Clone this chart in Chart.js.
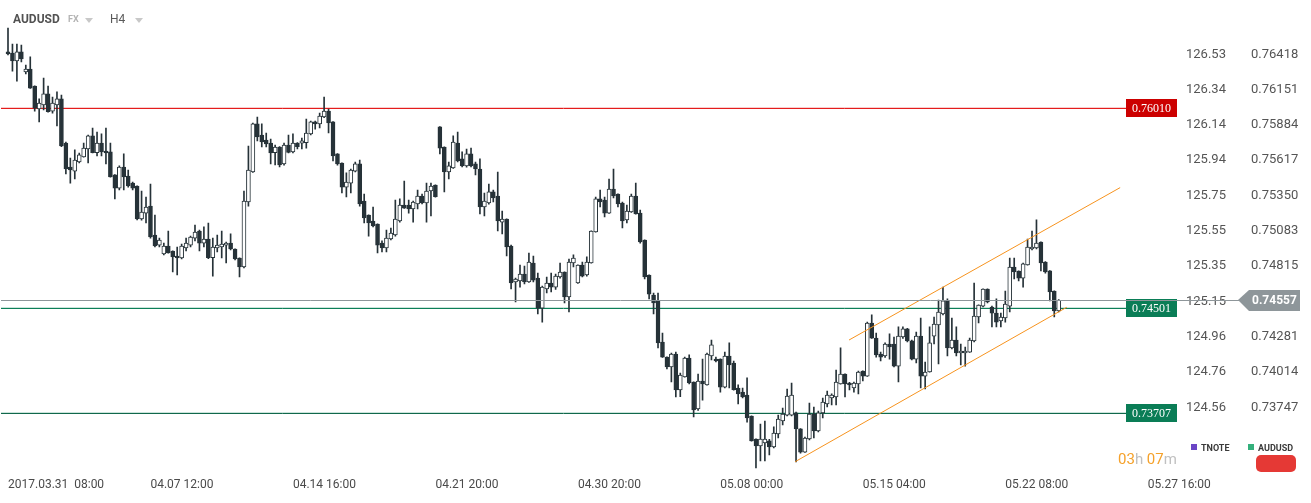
<!DOCTYPE html>
<html><head><meta charset="utf-8">
<script src="https://cdn.jsdelivr.net/npm/chart.js@4.4.1/dist/chart.umd.min.js"></script>
<style>
html,body{margin:0;padding:0;background:#fff;width:1311px;height:503px;overflow:hidden;font-family:Roboto,sans-serif;}
#wrap{position:relative;width:1311px;height:503px;}
canvas{position:absolute;left:0;top:0;}
.t{position:absolute;white-space:nowrap;line-height:1;}
.tri{position:absolute;width:0;height:0;border-left:4px solid transparent;border-right:4px solid transparent;border-top:5px solid #c8c8c8;}
</style></head><body>
<div id="wrap">
<canvas id="c" width="1311" height="503"></canvas>
<div class="t" style="left:13px;top:12px;font:bold 12px Roboto;color:#525252">AUDUSD</div>
<div class="t" style="left:68px;top:14px;font:bold 9px Roboto;color:#b4b4b4">FX</div>
<div class="tri" style="left:85px;top:18px"></div>
<div class="t" style="left:110px;top:12px;font:12px Roboto;color:#5a5a5a">H4</div>
<div class="tri" style="left:135px;top:18px"></div>
<div style="position:absolute;left:1191px;top:444px;width:6px;height:6px;background:#6b45c6"></div>
<div class="t" style="left:1201px;top:443px;font:bold 9px Roboto;color:#3a3a3a">TNOTE</div>
<div style="position:absolute;left:1248px;top:444px;width:6px;height:6px;background:#34b07c"></div>
<div class="t" style="left:1258px;top:443px;font:bold 9px Roboto;color:#3a3a3a">AUDUSD</div>
<div class="t" style="left:1118px;top:450px;font:15px Roboto;color:#c0c0c0"><span style="color:#f5a12a">03</span>h <span style="color:#f5a12a">07</span>m</div>
<div style="position:absolute;left:1256px;top:455px;width:40px;height:17px;border-radius:5px;background:#e53935"></div>
</div>
<script>
// ---- DATA ----
const open = [0.76437,0.76429,0.76368,0.76437,0.76285,0.76308,0.76179,0.76005,0.76035,0.76119,
0.75989,0.76035,0.76081,0.75747,0.75566,0.75535,0.75604,0.75642,0.75702,0.75801,
0.75675,0.75747,0.75687,0.75680,0.75506,0.75406,0.75566,0.75498,0.75444,0.75422,
0.75172,0.75217,0.75270,0.75051,0.74975,0.74908,0.74968,0.74930,0.74892,0.74877,
0.74953,0.74975,0.75028,0.75081,0.74990,0.75021,0.74880,0.74953,0.74960,0.74975,
0.74990,0.74945,0.74877,0.74809,0.75301,0.75528,0.75892,0.75808,0.75770,0.75747,
0.75675,0.75717,0.75589,0.75732,0.75680,0.75747,0.75747,0.75750,0.75816,0.75907,
0.75892,0.75944,0.75989,0.75907,0.75665,0.75596,0.75414,0.75444,0.75535,0.75589,
0.75308,0.75202,0.75157,0.75134,0.74990,0.74953,0.75021,0.75051,0.75157,0.75278,
0.75278,0.75248,0.75286,0.75346,0.75293,0.75384,0.75429,0.75869,0.75717,0.75528,
0.75558,0.75747,0.75627,0.75574,0.75665,0.75589,0.75551,0.75263,0.75293,0.75377,
0.75346,0.75149,0.75172,0.74968,0.74695,0.74703,0.74756,0.74695,0.74839,0.74725,
0.74498,0.74642,0.74688,0.74657,0.74733,0.74771,0.74582,0.74839,0.74688,0.74824,
0.74748,0.74839,0.75074,0.75324,0.75316,0.75217,0.75399,0.75361,0.75293,0.75165,
0.75225,0.75346,0.75217,0.75013,0.74748,0.74597,0.74552,0.74241,0.74127,0.74052,
0.74150,0.73878,0.73976,0.74120,0.73938,0.73734,0.73946,0.73916,0.74135,0.74112,
0.74112,0.73900,0.74135,0.74082,0.73893,0.73862,0.73840,0.73681,0.73507,0.73454,
0.73477,0.73492,0.73446,0.73545,0.73643,0.73688,0.73688,0.73704,0.73583,0.73408,
0.73507,0.73696,0.73567,0.73704,0.73772,0.73817,0.73825,0.73923,0.73999,0.73931,
0.73893,0.73923,0.74021,0.73983,0.74385,0.74271,0.74150,0.74135,0.74226,0.74226,
0.74059,0.74279,0.74340,0.74249,0.74112,0.74286,0.73983,0.74014,0.74286,0.74370,
0.74453,0.74552,0.74196,0.74256,0.74158,0.74158,0.74165,0.74249,0.74430,0.74513,
0.74642,0.74506,0.74460,0.74400,0.74423,0.74513,0.74809,0.74778,0.74725,0.74824,
0.74945,0.74953,0.74998,0.74847,0.74779,0.74627,0.74476];
const high = [0.76618,0.76497,0.76497,0.76489,0.76338,0.76399,0.76181,0.76081,0.76239,0.76179,
0.76096,0.76134,0.76111,0.75755,0.75634,0.75695,0.75672,0.75747,0.75808,0.75861,
0.75831,0.75816,0.75861,0.75747,0.75508,0.75574,0.75665,0.75543,0.75452,0.75424,
0.75384,0.75339,0.75437,0.75202,0.75028,0.74990,0.75081,0.74932,0.74960,0.74983,
0.75028,0.75043,0.75127,0.75089,0.75112,0.75142,0.75028,0.75051,0.75081,0.74998,
0.75059,0.74947,0.74879,0.75384,0.75725,0.75899,0.75944,0.75892,0.75823,0.75778,
0.75732,0.75720,0.75747,0.75808,0.75816,0.75750,0.75785,0.75929,0.75914,0.75914,
0.75974,0.76096,0.76005,0.75909,0.75667,0.75598,0.75521,0.75551,0.75604,0.75619,
0.75361,0.75204,0.75263,0.75136,0.75006,0.75089,0.75104,0.75316,0.75324,0.75460,
0.75316,0.75308,0.75392,0.75361,0.75444,0.75444,0.75431,0.75871,0.75719,0.75604,
0.75801,0.75831,0.75680,0.75702,0.75709,0.75604,0.75627,0.75369,0.75437,0.75392,
0.75528,0.75233,0.75174,0.74975,0.74725,0.74824,0.74816,0.74915,0.74892,0.74763,
0.74665,0.74733,0.74763,0.74756,0.74839,0.74773,0.74869,0.74900,0.74826,0.74847,
0.74885,0.75083,0.75339,0.75392,0.75339,0.75475,0.75551,0.75363,0.75301,0.75278,
0.75361,0.75444,0.75240,0.75015,0.74750,0.74612,0.74612,0.74309,0.74129,0.74158,
0.74165,0.74006,0.74127,0.74143,0.73940,0.73999,0.74112,0.74158,0.74256,0.74127,
0.74114,0.74165,0.74234,0.74097,0.73916,0.73893,0.73969,0.73683,0.73509,0.73620,
0.73643,0.73505,0.73598,0.73688,0.73741,0.73885,0.73931,0.73711,0.73585,0.73522,
0.73779,0.73749,0.73719,0.73817,0.73870,0.73848,0.74029,0.74196,0.74001,0.73935,
0.73938,0.74021,0.74023,0.74392,0.74446,0.74309,0.74165,0.74234,0.74302,0.74279,
0.74355,0.74355,0.74345,0.74256,0.74317,0.74423,0.74090,0.74355,0.74430,0.74559,
0.74657,0.74567,0.74423,0.74355,0.74226,0.74203,0.74271,0.74688,0.74523,0.74644,
0.74644,0.74513,0.74567,0.74460,0.74627,0.74877,0.74877,0.74780,0.74839,0.75021,
0.75081,0.75165,0.75000,0.74849,0.74781,0.74629,0.74562];
const low = [0.76414,0.76292,0.76216,0.76361,0.76270,0.76160,0.75989,0.75907,0.75997,0.75980,
0.75974,0.75877,0.75720,0.75513,0.75444,0.75475,0.75596,0.75640,0.75596,0.75672,
0.75650,0.75650,0.75589,0.75488,0.75324,0.75392,0.75392,0.75414,0.75392,0.75165,
0.75163,0.75142,0.75028,0.74960,0.74960,0.74900,0.74913,0.74771,0.74748,0.74870,
0.74930,0.74960,0.75006,0.74930,0.74960,0.74872,0.74740,0.74923,0.74877,0.74839,
0.74938,0.74862,0.74733,0.74801,0.75270,0.75525,0.75763,0.75717,0.75717,0.75589,
0.75581,0.75566,0.75579,0.75673,0.75673,0.75702,0.75702,0.75709,0.75808,0.75853,
0.75861,0.75940,0.75823,0.75611,0.75580,0.75369,0.75339,0.75369,0.75528,0.75270,
0.75142,0.75043,0.75112,0.74915,0.74923,0.74923,0.75013,0.75043,0.75149,0.75253,
0.75217,0.75149,0.75248,0.75286,0.75149,0.75195,0.75338,0.75665,0.75377,0.75475,
0.75556,0.75604,0.75566,0.75564,0.75566,0.75506,0.75210,0.75195,0.75285,0.75301,
0.75081,0.75059,0.74892,0.74642,0.74544,0.74657,0.74680,0.74692,0.74695,0.74453,
0.74392,0.74612,0.74620,0.74640,0.74725,0.74536,0.74468,0.74809,0.74685,0.74733,
0.74740,0.74837,0.75072,0.75263,0.75187,0.75215,0.75331,0.75263,0.75104,0.75142,
0.75222,0.75208,0.74990,0.74718,0.74567,0.74453,0.74196,0.74125,0.74037,0.73938,
0.73825,0.73827,0.73974,0.73923,0.73673,0.73724,0.73800,0.73914,0.74105,0.74090,
0.73862,0.73893,0.73893,0.73876,0.73772,0.73817,0.73635,0.73490,0.73287,0.73340,
0.73340,0.73386,0.73439,0.73514,0.73613,0.73681,0.73681,0.73333,0.73399,0.73406,
0.73499,0.73514,0.73560,0.73666,0.73749,0.73764,0.73764,0.73921,0.73825,0.73878,
0.73862,0.73848,0.73946,0.73981,0.74269,0.74127,0.74097,0.74125,0.74112,0.74052,
0.73938,0.74268,0.74241,0.74105,0.74082,0.73893,0.73885,0.74012,0.74226,0.74075,
0.74446,0.74135,0.74188,0.74135,0.74067,0.74059,0.74163,0.74241,0.74385,0.74506,
0.74536,0.74355,0.74355,0.74355,0.74392,0.74468,0.74718,0.74703,0.74657,0.74822,
0.74938,0.74945,0.74779,0.74763,0.74552,0.74430,0.74468];
const close = [0.76422,0.76368,0.76437,0.76384,0.76308,0.76163,0.76012,0.76050,0.76119,0.75985,
0.76050,0.76081,0.75725,0.75551,0.75543,0.75619,0.75657,0.75709,0.75801,0.75675,
0.75747,0.75680,0.75672,0.75491,0.75406,0.75566,0.75491,0.75422,0.75406,0.75172,
0.75225,0.75263,0.75036,0.74968,0.75013,0.74968,0.74915,0.74885,0.74877,0.74968,
0.74990,0.75036,0.75074,0.74990,0.75021,0.74880,0.74960,0.74975,0.74983,0.74990,
0.74945,0.74870,0.74809,0.75308,0.75543,0.75892,0.75793,0.75755,0.75740,0.75672,
0.75717,0.75581,0.75732,0.75677,0.75747,0.75720,0.75763,0.75823,0.75907,0.75892,
0.75952,0.75989,0.75899,0.75650,0.75589,0.75414,0.75452,0.75543,0.75589,0.75286,
0.75180,0.75142,0.75119,0.74975,0.74953,0.75028,0.75066,0.75172,0.75278,0.75255,
0.75248,0.75301,0.75346,0.75293,0.75384,0.75422,0.75341,0.75709,0.75528,0.75574,
0.75755,0.75611,0.75574,0.75665,0.75574,0.75551,0.75263,0.75308,0.75377,0.75331,
0.75157,0.75172,0.74960,0.74688,0.74718,0.74756,0.74695,0.74847,0.74710,0.74498,
0.74657,0.74688,0.74657,0.74740,0.74771,0.74582,0.74847,0.74877,0.74824,0.74740,
0.74847,0.75081,0.75324,0.75301,0.75217,0.75399,0.75346,0.75286,0.75157,0.75233,
0.75346,0.75210,0.74998,0.74733,0.74604,0.74536,0.74234,0.74127,0.74052,0.74150,
0.73878,0.73991,0.74120,0.73931,0.73726,0.73946,0.73923,0.74150,0.74219,0.74097,
0.73900,0.74135,0.74067,0.73880,0.73848,0.73825,0.73666,0.73492,0.73454,0.73507,
0.73507,0.73446,0.73552,0.73658,0.73696,0.73832,0.73840,0.73583,0.73408,0.73514,
0.73696,0.73567,0.73704,0.73787,0.73840,0.73840,0.73938,0.73999,0.73923,0.73916,
0.73931,0.74014,0.73983,0.74385,0.74271,0.74143,0.74127,0.74226,0.74203,0.74059,
0.74286,0.74340,0.74249,0.74112,0.74286,0.73983,0.74014,0.74234,0.74377,0.74468,
0.74552,0.74196,0.74256,0.74158,0.74173,0.74173,0.74256,0.74438,0.74521,0.74642,
0.74544,0.74460,0.74392,0.74430,0.74529,0.74809,0.74771,0.74725,0.74832,0.74960,
0.74960,0.74990,0.74839,0.74771,0.74620,0.74476,0.74557];

const xTickIndex = [0, 32, 64, 96, 128, 160, 192, 224, 256];
const xTickLabels = ['2017.03.31  08:00', '04.07 12:00', '04.14 16:00', '04.21 20:00', '04.30 20:00', '05.08 00:00', '05.15 04:00', '05.22 08:00', '05.27 16:00'];
const audTicks = [0.76418, 0.76151, 0.75884, 0.75617, 0.75350, 0.75083, 0.74815, 0.74548, 0.74281, 0.74014, 0.73747];
const tnoteTicks = ['126.53', '126.34', '126.14', '125.94', '125.75', '125.55', '125.35', '125.15', '124.96', '124.76', '124.56'];
const levelValues = [0.76010, 0.74501, 0.73707];
const currentPrice = 0.74557;
const channelUpper = [[188.9, 0.74256], [249.8, 0.75410]];
const channelLower = [[176.8, 0.73335], [237.8, 0.74504]];

// ---- STYLE ----
const DARK = '#263238';
const levelLine = ['#e41c1c', '#0c7f58', '#11684c'];
const levelBox = ['#cc0000', '#0a7d56', '#0a7d56'];
const Y_MIN = 0.732721, Y_MAX = 0.767104;
const X_MIN = -1.571, X_MAX = 262.79;

Chart.defaults.font.family = 'Roboto';

const bodies = open.map((o, i) => ({x: i, y: [o, close[i]]}));
const wicks = low.map((l, i) => ({x: i, y: [l, high[i]]}));
const bodyFill = open.map((o, i) => close[i] >= o ? '#ffffff' : DARK);

const levelPlugin = {
  id: 'levels',
  beforeDatasetsDraw(chart) {
    const {ctx, chartArea: a, scales: {y}} = chart;
    ctx.save();
    levelValues.forEach((v, k) => {
      const py = Math.round(y.getPixelForValue(v)) + 0.5;
      ctx.strokeStyle = k === 0 ? 'rgba(230,60,60,0.25)' : 'rgba(20,130,90,0.22)';
      ctx.lineWidth = 1;
      ctx.beginPath(); ctx.moveTo(a.left, py - 1); ctx.lineTo(a.right - 52, py - 1); ctx.stroke();
      ctx.strokeStyle = levelLine[k];
      ctx.beginPath(); ctx.moveTo(a.left, py); ctx.lineTo(a.right - 52, py); ctx.stroke();
    });
    ctx.restore();
  },
  afterDraw(chart) {
    const {ctx, chartArea: a, scales: {y}} = chart;
    ctx.save();
    levelValues.forEach((v, k) => {
      const py = Math.round(y.getPixelForValue(v));
      ctx.fillStyle = levelBox[k];
      ctx.fillRect(a.right - 52, py - 9, 51, 18);
      ctx.fillStyle = '#ffffff';
      ctx.font = '12px "Liberation Serif", serif';
      ctx.textAlign = 'center'; ctx.textBaseline = 'middle';
      ctx.fillText(v.toFixed(5), a.right - 26.5, py + 1);
    });
    const cy = Math.round(y.getPixelForValue(currentPrice));
    ctx.strokeStyle = '#8e969a'; ctx.lineWidth = 1;
    ctx.beginPath(); ctx.moveTo(a.left, cy + 0.5); ctx.lineTo(a.right + 62, cy + 0.5); ctx.stroke();
    const tx = a.right + 60;
    ctx.fillStyle = '#8e969a';
    ctx.beginPath();
    ctx.moveTo(tx, cy); ctx.lineTo(tx + 11, cy - 10); ctx.lineTo(tx + 62, cy - 10);
    ctx.lineTo(tx + 62, cy + 11); ctx.lineTo(tx + 11, cy + 11); ctx.closePath(); ctx.fill();
    ctx.fillStyle = '#ffffff';
    ctx.font = 'bold 12px Roboto';
    ctx.textAlign = 'left'; ctx.textBaseline = 'middle';
    ctx.fillText(currentPrice.toFixed(5), tx + 14, cy + 1);
    ctx.restore();
  }
};

new Chart(document.getElementById('c'), {
  type: 'bar',
  data: {
    datasets: [
      {type: 'line', data: channelUpper.map(p => ({x: p[0], y: p[1]})), borderColor: '#f7931e', borderWidth: 1, pointRadius: 0, order: 0},
      {type: 'line', data: channelLower.map(p => ({x: p[0], y: p[1]})), borderColor: '#f7931e', borderWidth: 1, pointRadius: 0, order: 0},
      {data: bodies, backgroundColor: bodyFill, borderColor: DARK, borderWidth: 1, borderSkipped: false, barThickness: 4, grouped: false, order: 1},
      {data: wicks, backgroundColor: DARK, borderWidth: 0, barThickness: 1, grouped: false, order: 2}
    ]
  },
  options: {
    responsive: false,
    animation: false,
    events: [],
    devicePixelRatio: 1,
    layout: {padding: {top: 10, left: 0, right: 0, bottom: 0}},
    plugins: {legend: {display: false}, tooltip: {enabled: false}},
    scales: {
      x: {
        type: 'linear', min: X_MIN, max: X_MAX, offset: false,
        grid: {display: false, drawTicks: false}, border: {display: false},
        afterBuildTicks: ax => { ax.ticks = xTickIndex.map(v => ({value: v})); },
        afterFit: ax => { ax.height = 33; },
        ticks: {autoSkip: false, maxRotation: 0, align: 'start', padding: 8, color: '#4a4a4a', font: {size: 12},
          callback: (v, i) => xTickLabels[i]}
      },
      yT: {
        type: 'linear', position: 'right', min: Y_MIN, max: Y_MAX, weight: 1, beginAtZero: false,
        grid: {display: false, drawTicks: false}, border: {display: false},
        afterBuildTicks: ax => { ax.ticks = audTicks.map(v => ({value: v})); },
        afterFit: ax => { ax.width = 65; },
        ticks: {padding: 8, color: '#555', font: {size: 13}, callback: (v, i) => tnoteTicks[i]}
      },
      y: {
        type: 'linear', position: 'right', min: Y_MIN, max: Y_MAX, weight: 2, beginAtZero: false,
        grid: {display: false, drawTicks: false}, border: {display: false},
        afterBuildTicks: ax => { ax.ticks = audTicks.map(v => ({value: v})); },
        afterFit: ax => { ax.width = 68; },
        ticks: {padding: 8, color: '#555', font: {size: 13}, callback: v => v.toFixed(5)}
      }
    }
  },
  plugins: [levelPlugin]
});
</script>
</body></html>
